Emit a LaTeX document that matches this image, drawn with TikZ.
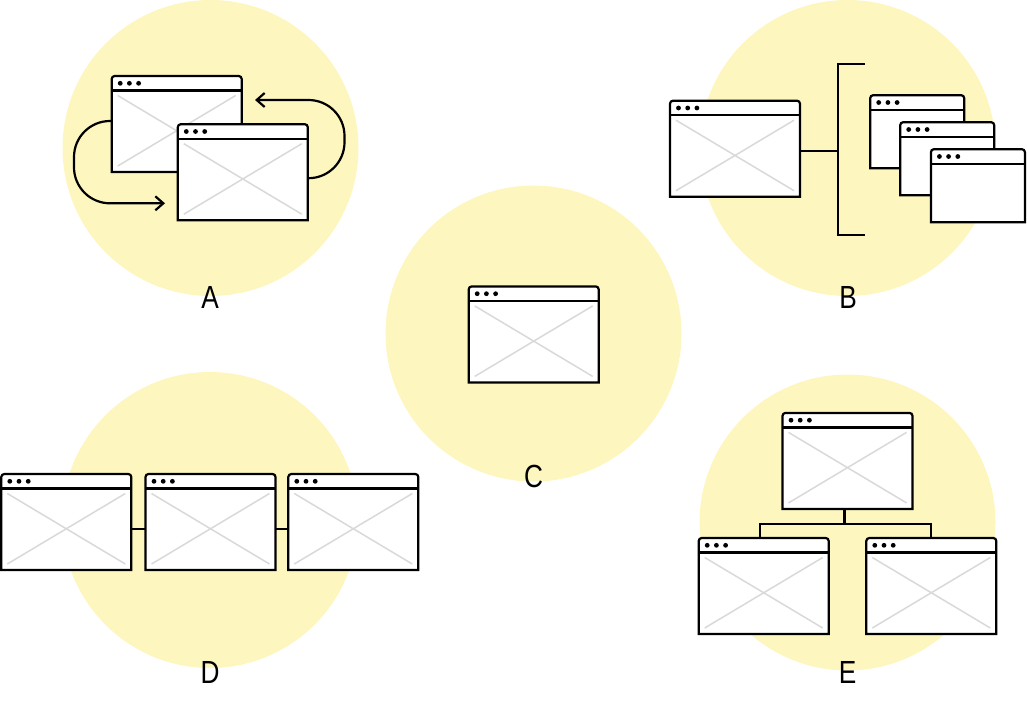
\documentclass[tikz,border=0pt]{standalone}
\usepackage{fontspec}
\setmainfont{Liberation Sans}[FakeStretch=0.82]
\usetikzlibrary{arrows.meta}
\definecolor{spotyellow}{HTML}{FEF6BF}
\definecolor{xgrey}{HTML}{D9D9D9}
\tikzset{
	spot/.style={fill=spotyellow, draw=none},
	winframe/.style={draw=black, line width=2.2pt},
	link/.style={draw=black, line width=2.2pt},
	flow/.style={draw=black, line width=2.2pt, -{Straight Barb[length=8pt,width=14pt]}},
	letter/.style={font=\fontsize{32}{32}\selectfont, inner sep=0pt},
	win/.style={rectangle, fill=white, inner sep=0pt, outer sep=0pt,
			minimum width=130pt, minimum height=96pt,
			path picture={
					\draw[line width=1.5pt, draw=#1]
					([xshift=6pt,yshift=6pt]path picture bounding box.south west) -- ([xshift=-6pt,yshift=-19.5pt]path picture bounding box.north east)
					([xshift=6pt,yshift=-19.5pt]path picture bounding box.north west) -- ([xshift=-6pt,yshift=6pt]path picture bounding box.south east);
					\draw[winframe] ([yshift=-14.5pt]path picture bounding box.north west) -- ([yshift=-14.5pt]path picture bounding box.north east);
					\foreach \k in {0,1,2}
					\fill[black] ([xshift={8.5pt+9.2pt*\k}, yshift=-7.3pt]path picture bounding box.north west) circle (2.4pt);
				}},
	win/.default=xgrey,
	smallwin/.style={win=white, minimum width=94pt, minimum height=73pt},
}
% outline of a window, rounded at the top only
\newcommand{\framewin}[1]{%
	\draw[winframe] (#1.south west) -- ([yshift=-3pt]#1.north west) arc[start angle=180, end angle=90, radius=3pt]
	-- ([xshift=-3pt]#1.north east) arc[start angle=90, end angle=0, radius=3pt] -- (#1.south east) -- cycle;}

\begin{document}
\begin{tikzpicture}[x=1pt, y=-1pt]
	\useasboundingbox (0,0) rectangle (1027,723);

	% Draw the circles
	\foreach \cx/\cy in {210.5/148, 847.5/148, 533.5/333.5, 210/520, 847.5/522.5}
	\fill[spot] (\cx,\cy) circle (148pt);

	% A: two windows swapping
	\node[win] (a1) at (176.7,124) {};
	\framewin{a1}
	\node[win] (a2) at (242.8,172.2) {};
	\framewin{a2}
	\coordinate (a2in) at (165,203.3);
	\coordinate (a1in) at (255,100);
	\draw[flow, rounded corners=36pt] ([yshift=3pt]a1.west) -- ++(-37.7,0) |- (a2in);
	\draw[flow, rounded corners=36pt] ([yshift=-6pt]a2.east) -- ++(36.7,0) |- (a1in);
	\node[letter] (la) at (210,297) {A};

	% B: one window opening a stack
	\node[win] (b0) at (735,148.7) {};
	\framewin{b0}
	\node[smallwin] (b1) at (917.2,131.7) {};
	\framewin{b1}
	\node[smallwin] (b2) at (947.2,158.7) {};
	\framewin{b2}
	\node[smallwin] (b3) at (977.9,185.7) {};
	\framewin{b3}
	\coordinate (btop) at (865,64);
	\coordinate (bbot) at (865,235);
	\coordinate (bspine) at (838.3,150.7);
	\draw[link] (btop) -| (bspine) |- (bbot);
	\draw[link] (b0.east |- bspine) -- (bspine);
	\node[letter] (lb) at (848,297) {B};

	% C: single window
	\node[win] (c) at (533.7,334.4) {};
	\framewin{c}
	\node[letter] (lc) at (533.5,476) {C};

	% D: windows in a row
	\node[win] (d1) at (66.3,522) {};
	\framewin{d1}
	\node[win] (d2) at (210.5,522) {};
	\framewin{d2}
	\node[win] (d3) at (353.3,522) {};
	\framewin{d3}
	\draw[link] ([yshift=-7pt]d1.east) -- ([yshift=-7pt]d2.west);
	\draw[link] ([yshift=-7pt]d2.east) -- ([yshift=-7pt]d3.west);
	\node[letter] (ld) at (210,672) {D};

	% E: a small tree
	\node[win] (e1) at (847.5,460.9) {};
	\framewin{e1}
	\node[win] (e2) at (763.7,586) {};
	\framewin{e2}
	\node[win] (e3) at (931.3,586) {};
	\framewin{e3}
	\coordinate (ejoin) at ([xshift=-3pt, yshift=-15pt]e1.south);
	\draw[link] (ejoin |- e1.south) -- (ejoin) -| ([xshift=-3.7pt]e2.north);
	\draw[link] (ejoin) -| (e3.north);
	\node[letter] (le) at (847.5,672) {E};
\end{tikzpicture}
\end{document}
